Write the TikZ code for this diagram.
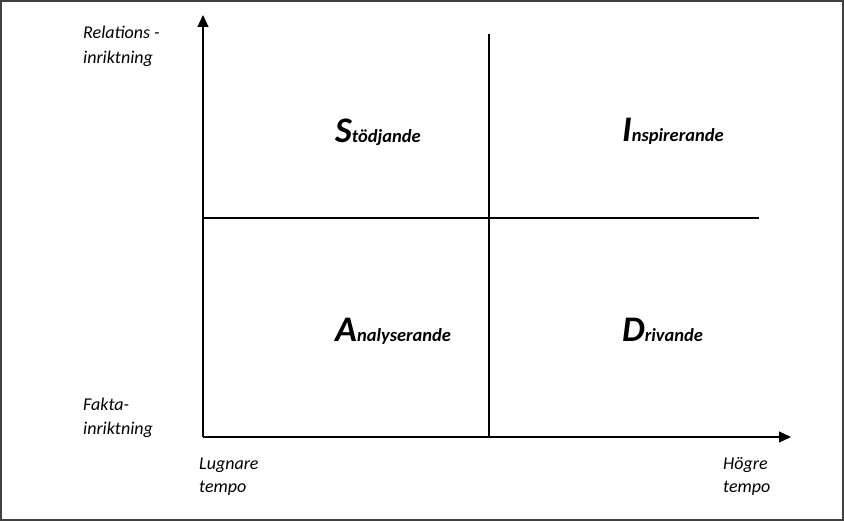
\documentclass[tikz,border=0pt]{standalone}
\usepackage{fontspec}
\setmainfont{Carlito}
\usetikzlibrary{arrows.meta}
\begin{document}
\begin{tikzpicture}[x=1pt,y=-1pt,
  axislbl/.style={anchor=base west,inner sep=0pt,font=\fontsize{18}{25}\selectfont\itshape},
  quad/.style={anchor=base west,inner sep=0pt,font=\fontsize{18.5}{24}\selectfont\bfseries\itshape},
  axisline/.style={line width=1.2pt,-{Triangle[length=12pt,width=11pt]}},
  divline/.style={line width=1.2pt}]
\useasboundingbox (0,0) rectangle (844,521);
\draw[line width=2pt,draw=black!75] (1,1) rectangle (843,520);
% axes
\coordinate (O) at (203,437);
\coordinate (ytip) at (203,15);
\coordinate (xtip) at (791,437);
\draw[axisline] (O) -- (ytip);
\draw[axisline] (O) -- (xtip);
% dividers
\coordinate (vtop) at (489,34);
\coordinate (vbot) at (489,437);
\coordinate (hl) at (203,218);
\coordinate (hr) at (759,218);
\draw[divline] (vbot) -- (vtop);
\draw[divline] (hl) -- (hr);
% axis labels
\node[axislbl] (rel1) at (83,39) {Relations -};
\node[axislbl] (rel2) at (83,64) {inriktning};
\node[axislbl] (fak1) at (83,411) {Fakta-};
\node[axislbl] (fak2) at (83,435) {inriktning};
\node[axislbl] (lug1) at (199,469) {Lugnare};
\node[axislbl] (lug2) at (199,493) {tempo};
\node[axislbl] (hog1) at (723,469) {Högre};
\node[axislbl] (hog2) at (723,493) {tempo};
% quadrant labels
\node[quad] (S) at (335,143) {{\fontsize{36}{40}\selectfont S}tödjande};
\node[quad] (I) at (622,142) {{\fontsize{36}{40}\selectfont I}nspirerande};
\node[quad] (A) at (335,342) {{\fontsize{36}{40}\selectfont A}nalyserande};
\node[quad] (D) at (622,342) {{\fontsize{36}{40}\selectfont D}rivande};
\end{tikzpicture}
\end{document}
